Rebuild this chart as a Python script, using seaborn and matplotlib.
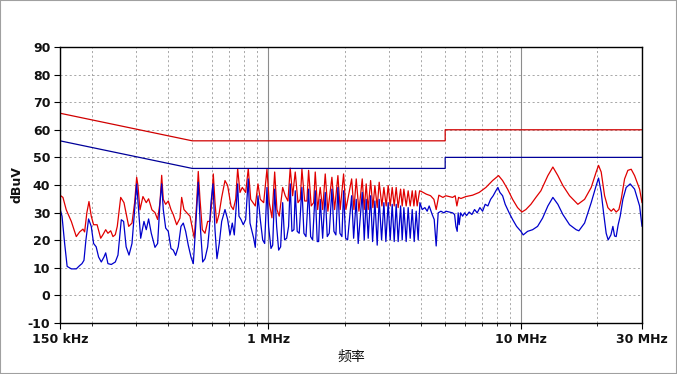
"""Conducted emission scan vs. EN55022 class B limits."""
import matplotlib
matplotlib.use("Agg")
import matplotlib.pyplot as plt
import matplotlib.ticker as mticker
from matplotlib.patches import Rectangle
import seaborn as sns

# limit lines (kHz, dBuV)
qp_limit_khz = [150, 500, 5000, 5000, 30000]
qp_limit_db = [66, 56, 56, 60, 60]
av_limit_khz = [150, 500, 5000, 5000, 30000]
av_limit_db = [56, 46, 46, 50, 50]

# peak scan (red)
red_khz = [
    150, 154.1, 158.8, 166.3, 174.0, 179.4, 184.9, 187.7, 191.6, 195.3, 199.4, 203.7,
    210.3, 217.3, 221.8, 227.4, 232.1, 238.0, 243.0, 248.2, 252.7, 260.7, 268.6, 280.4,
    288.9, 296.0, 301.5, 305.0, 310.7, 319.2, 329.0, 336.1, 346.5,
    356.2, 364.9, 372.8, 378.6, 384.1, 392.6, 402.0, 412.0, 420.7, 433.9, 447.2, 454.1,
    463.7, 475.2, 489.9, 502.0, 509.5, 520.6, 528.2, 536.6, 547.9, 561.6, 575.4, 587.7,
    596.8, 605.6, 615.1, 624.5, 637.7, 653.7, 673.7, 690.2, 711.5, 726.5, 742.5, 756.1,
    772.3, 788.6, 813.2, 832.7, 851.3,
    887.6, 909.5, 929.0, 958.1, 987.2, 1008, 1033, 1059, 1081, 1104, 1139, 1166, 1195,
    1220, 1247, 1277, 1309, 1337, 1357, 1391, 1420, 1442, 1477, 1510, 1532, 1566, 1603,
    1639, 1678, 1719, 1783, 1827, 1883, 1923, 1983, 2025,
    2134, 2179, 2225, 2280, 2350, 2393, 2436, 2481, 2536, 2589, 2637, 2693, 2742, 2811,
    2862, 2922, 2976, 3031, 3087, 3144, 3201, 3259, 3332, 3381, 3433, 3506, 3570, 3637,
    3704, 3761, 3819, 3875, 3962, 4056, 4206, 4379, 4512, 4607, 4721, 4897,
    5032, 5185, 5349, 5477, 5562, 5648, 5769, 6037, 6417, 6813, 7242, 7699, 8128, 8433,
    8824, 9237, 9665, 10053, 10424, 10911, 11418, 11951,
    12734, 13329, 13947, 14599, 15514, 16732, 17787, 18892, 19768, 20199, 20692, 21339,
    21987, 22665, 23162, 23715, 24304, 24825, 25600, 26378, 27191, 28040, 29351, 30000,
]
red_db = [
    36.3, 35.5, 31.0, 26.8, 21.3, 23.0, 24.0, 23.0, 30.0, 34.0, 28.7, 25.6,
    25.6, 20.7, 22.0, 23.8, 22.5, 23.4, 21.3, 22.0, 25.0, 35.5, 33.6, 25.0,
    26.2, 33.6, 42.8, 39.8, 31.0, 35.8, 33.6, 35.0, 31.0,
    30.0, 27.5, 33.6, 43.5, 34.8, 33.0, 34.2, 31.1, 29.3, 25.6, 28.0, 35.5,
    31.1, 30.0, 28.7, 23.8, 20.7, 33.6, 44.9, 34.8, 23.8, 22.5, 26.8, 26.8,
    33.6, 44.0, 33.6, 26.2, 29.3, 35.5, 41.6, 39.8, 32.4, 31.1, 34.8, 45.9,
    37.3, 39.1, 37.3, 45.9, 34.8,
    32.4, 40.4, 34.8, 33.6, 45.7, 33.6, 28.1, 44.7, 31.1, 28.7, 39.1, 36.1, 34.2,
    46.1, 36.1, 44.7, 33.6, 34.8, 45.7, 34.2, 34.2, 45.3, 32.4, 33.6, 44.7, 31.1, 39.1,
    31.1, 44.0, 30.5, 42.8, 31.1, 43.4, 31.1, 44.0, 31.1,
    42.2, 31.1, 42.2, 30.5, 42.2, 31.1, 40.4, 31.1, 41.6, 31.8, 39.8, 31.8, 41.0, 32.4,
    39.1, 32.4, 39.8, 32.4, 39.1, 32.4, 39.1, 31.8, 38.5, 32.4, 38.5, 32.4, 37.9, 32.4,
    37.9, 32.4, 37.9, 32.4, 37.9, 37.5, 36.7, 36.1, 34.8, 31.1, 36.3, 35.5,
    36.1, 35.8, 35.5, 36.1, 32.4, 35.5, 35.1, 35.8, 36.3, 37.3, 39.1, 41.6, 43.4, 41.6,
    38.5, 34.8, 31.8, 30.2, 31.1, 33.0, 35.5, 37.9,
    43.4, 46.5, 43.4, 39.8, 36.1, 33.0, 34.8, 39.1, 44.7, 47.1, 44.7, 36.1,
    31.8, 30.5, 31.4, 30.2, 31.1, 34.8, 42.2, 45.3, 45.7, 43.4, 38.5, 33.6,
]

# average scan (blue)
blue_khz = [
    150, 152.8, 156.5, 160.1, 166.3, 174.0, 179.4, 183.2, 186.6, 189.9, 194.6, 199.4,
    203.7, 208.5, 213.2, 218.5, 223.9, 227.4, 232.1, 239.3, 248.2, 254.3, 262.1, 267.7,
    273.9, 281.2, 288.9, 293.2, 301.5, 306.9, 312.7, 322.2, 329.0, 336.1, 344.4,
    356.2, 364.9, 372.8, 378.6, 384.1, 392.6, 402.0, 412.0, 420.7, 429.9, 440.2, 451.3,
    460.8, 470.9, 482.2, 494.4, 504.8, 515.9, 528.2, 538.1, 549.9, 561.6, 575.4, 583.8,
    593.0, 603.9, 615.1, 626.2, 639.4, 653.7, 673.7, 690.2, 705.1, 720.0, 733.3, 744.5,
    756.1, 765.1, 779.3, 795.8, 813.2, 832.7, 845.9,
    874.7, 887.6, 909.5, 929.0, 949.5, 966.8, 987.2, 1002, 1024, 1040, 1059, 1078, 1098,
    1118, 1139, 1159, 1181, 1202, 1220, 1239, 1262, 1277, 1300, 1324, 1357, 1382, 1408,
    1442, 1469, 1496, 1532, 1560, 1580, 1603, 1639, 1678, 1709, 1740, 1783, 1816, 1849,
    1883, 1918, 1953, 1983, 2020, 2057,
    2134, 2173, 2225, 2265, 2350, 2393, 2436, 2481, 2536, 2582, 2637, 2693, 2742, 2803,
    2862, 2914, 2976, 3031, 3087, 3144, 3201, 3259, 3332, 3381, 3433, 3506, 3570, 3637,
    3704, 3772, 3840, 3911, 3972, 4056, 4157, 4244, 4322, 4443, 4525, 4607, 4691, 4809,
    4942,
    5032, 5185, 5349, 5447, 5512, 5578, 5628, 5679, 5754, 5859, 5966, 6075, 6220, 6377,
    6534, 6691, 6859, 7029, 7197, 7375, 7561, 7741, 7933, 8078, 8229, 8433, 8635, 8953,
    9237, 9578, 9962, 10172, 10586, 11081, 11595, 12137,
    12734, 13329, 13947, 14599, 15514, 16477, 16886, 17787, 18892, 19768, 20199, 20692,
    21146, 21651, 22048, 22602, 23014, 23372, 23715, 24150, 24599, 25208, 25976, 26944,
    28040, 29351, 30000,
]
blue_db = [
    31.4, 28.7, 18.8, 10.5, 9.6, 9.6, 10.8, 11.5, 12.7, 20.0, 27.7, 25.0,
    18.8, 17.6, 13.9, 12.1, 13.9, 15.4, 11.5, 11.2, 12.1, 14.6, 27.4, 26.8,
    17.6, 14.6, 18.8, 26.2, 40.4, 31.0, 20.7, 26.8, 23.8, 27.7, 22.5,
    17.4, 18.8, 33.6, 40.4, 31.1, 24.4, 23.2, 17.0, 16.4, 14.5, 17.6, 25.0,
    26.2, 23.2, 18.2, 13.9, 11.5, 25.0, 41.0, 25.0, 12.1, 13.3, 17.6, 23.8,
    33.6, 40.4, 23.8, 13.3, 18.8, 26.8, 31.1, 27.5, 21.9, 26.2, 21.9, 31.1,
    40.4, 28.7, 27.5, 25.6, 27.5, 42.2, 26.2,
    20.7, 17.4, 36.1, 27.5, 20.1, 18.8, 39.1, 25.0, 17.0, 18.2, 38.5, 25.0, 16.4,
    17.6, 33.6, 20.1, 20.7, 25.0, 40.4, 23.2, 23.8, 37.9, 23.2, 22.5, 39.1, 22.5, 21.3,
    38.5, 21.3, 20.1, 37.9, 19.5, 19.5, 34.8, 20.7, 37.3, 21.3, 22.5, 38.5, 23.2, 21.9,
    39.1, 22.5, 21.3, 37.9, 20.7, 20.1,
    36.1, 20.7, 34.8, 18.8, 37.3, 20.1, 34.8, 20.7, 36.1, 19.5, 34.2, 18.2, 34.8, 20.1,
    33.6, 19.5, 33.6, 20.1, 33.0, 19.5, 33.0, 19.5, 32.4, 20.1, 31.8, 19.5, 31.8, 20.7,
    31.1, 19.5, 30.5, 20.1, 33.6, 31.1, 31.8, 30.5, 32.4, 29.3, 27.5, 17.9, 29.9, 30.5,
    29.9,
    30.5, 30.2, 29.9, 29.3, 25.0, 23.2, 29.9, 25.6, 29.9, 28.7, 29.9, 28.9, 30.2, 29.3,
    31.1, 29.9, 31.8, 30.5, 33.0, 32.4, 34.8, 36.1, 37.9, 39.1, 37.3, 36.1, 33.0, 29.9,
    27.5, 25.0, 23.2, 21.9, 23.2, 23.8, 25.0, 28.0,
    32.4, 35.5, 33.0, 29.3, 25.6, 23.8, 23.4, 26.2, 33.6, 39.8, 42.5, 37.3,
    29.9, 22.5, 20.1, 21.9, 25.0, 21.5, 21.3, 25.6, 28.7, 34.8, 39.1, 40.4,
    38.5, 32.4, 25.0,
]

tick_khz = [150, 1000, 10000, 30000]
tick_labels = ["150 kHz", "1 MHz", "10 MHz", "30 MHz"]
y_ticks = list(range(-10, 91, 10))

sns.set_theme(style="white")
plt.rcParams["font.family"] = ["DejaVu Sans", "Noto Sans CJK SC"]
plt.rcParams["axes.unicode_minus"] = False

fig = plt.figure(figsize=(6.77, 3.74), dpi=100)
ax = fig.add_axes([0.0886, 0.1364, 0.8597, 0.7380])

grid_col = "#9a9a9a"
dots = (0, (2.5, 3))
ax.set_xscale("log")
ax.set_xlim(150, 30000)
ax.set_ylim(-10, 90)
ax.set_xticks(tick_khz)
ax.set_xticklabels(tick_labels)
ax.xaxis.set_minor_locator(mticker.LogLocator(base=10, subs=range(2, 10), numticks=20))
ax.xaxis.set_minor_formatter(mticker.NullFormatter())
ax.set_yticks(y_ticks)
ax.grid(axis="x", which="major", ls="-", color="#8c8c8c", lw=0.8)
ax.grid(axis="x", which="minor", ls=dots, color=grid_col, lw=0.6)
ax.grid(axis="y", which="major", ls=dots, color=grid_col, lw=0.6)
ax.set_axisbelow(True)

kw = dict(ax=ax, sort=False, estimator=None, lw=0.9, legend=False)
sns.lineplot(x=red_khz, y=red_db, color="#e00000", **kw)
sns.lineplot(x=blue_khz, y=blue_db, color="#0000cc", **kw)
sns.lineplot(x=qp_limit_khz, y=qp_limit_db, color="#d00000", **kw)
sns.lineplot(x=av_limit_khz, y=av_limit_db, color="#000099", **kw)

for side in ["left", "bottom", "top", "right"]:
    ax.spines[side].set_color("black")
    ax.spines[side].set_linewidth(1.0)
ax.tick_params(axis="both", which="major", direction="out", length=4, width=0.8,
               color="black", labelsize=9, bottom=True, left=True, pad=3)
ax.tick_params(axis="x", which="minor", direction="out", length=2.5, width=0.6,
               color="black", bottom=True)
for lab in ax.get_xticklabels() + ax.get_yticklabels():
    lab.set_fontweight("bold")
    lab.set_color("#111111")

ax.set_ylabel("dBuV", fontsize=9, fontweight="bold", color="#111111")
ax.yaxis.set_label_coords(-0.062, 0.5)
ax.set_xlabel("频率", fontsize=10, family=["Noto Sans CJK SC", "DejaVu Sans"],
              labelpad=3, color="#111111")

fig.patches.append(Rectangle((0, 0), 1, 1, transform=fig.transFigure, fill=False,
                             edgecolor="#a0a0a0", lw=1.5))

fig.savefig("out.png", dpi=100)
